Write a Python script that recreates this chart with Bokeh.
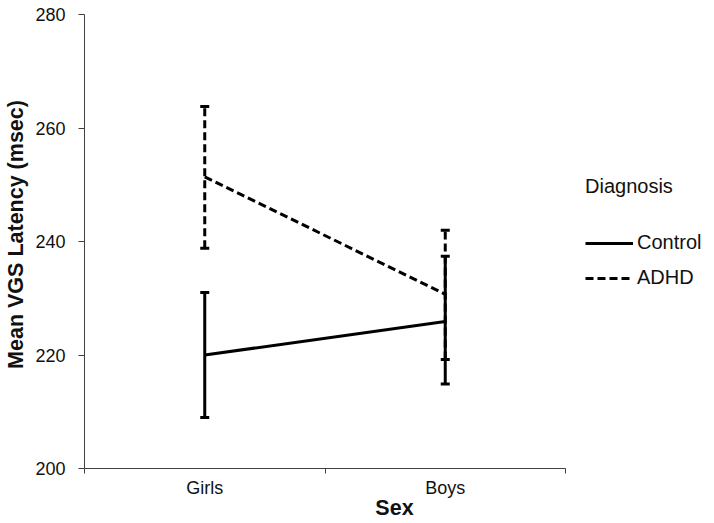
from bokeh.plotting import figure
from bokeh.models import Range1d, FixedTicker, Legend, LegendItem, ColumnDataSource
from bokeh.embed import file_html
from bokeh.resources import INLINE

categories = ["Girls", "Boys"]
control_mean = [220.0, 225.9]
control_upper = [231.0, 237.4]
control_lower = [209.0, 214.9]
adhd_mean = [251.4, 230.7]
adhd_upper = [263.8, 242.0]
adhd_lower = [238.8, 219.2]
y_ticks = [200, 220, 240, 260, 280]

xpos = [i + 0.5 for i in range(len(categories))]
n = len(categories)
FW = 620          # frame width (px); categories span 481 px of it
FH = 468          # frame height (px); 200..280 span 454 px of it

p = figure(frame_width=FW, frame_height=FH, output_backend="svg", toolbar_location=None,
           x_range=Range1d(0, n * FW / 481), y_range=Range1d(200, 200 + 80 * FH / 454),
           min_border_left=84, min_border_right=0, min_border_top=0, min_border_bottom=52)
p.outline_line_color = None
p.xgrid.visible = False
p.ygrid.visible = False

FONT = "Liberation Sans"
AX = "#404040"
TXT = "#111111"

# x axis
p.xaxis.bounds = (0, n)
p.xaxis.ticker = FixedTicker(ticks=xpos, minor_ticks=list(range(n + 1)))
p.xaxis.major_label_overrides = {x: c for x, c in zip(xpos, categories)}
p.xaxis.major_tick_line_color = None
p.xaxis.major_tick_in = 0
p.xaxis.major_tick_out = 0
p.xaxis.minor_tick_in = 0
p.xaxis.minor_tick_out = 5
p.xaxis.minor_tick_line_color = AX
p.xaxis.axis_line_color = AX
p.xaxis.major_label_standoff = 4
p.xaxis.major_label_text_font = FONT
p.xaxis.major_label_text_font_size = "18px"
p.xaxis.major_label_text_color = TXT
p.xaxis.axis_label = "Sex"
p.xaxis.axis_label_text_font = FONT
p.xaxis.axis_label_text_font_size = "21.5px"
p.xaxis.axis_label_text_font_style = "bold"
p.xaxis.axis_label_text_color = TXT
p.xaxis.axis_label_standoff = -5

# y axis
p.yaxis.bounds = (200, 280)
p.yaxis.ticker = FixedTicker(ticks=y_ticks, minor_ticks=[])
p.yaxis.major_tick_in = 0
p.yaxis.major_tick_out = 6
p.yaxis.major_tick_line_color = AX
p.yaxis.axis_line_color = AX
p.yaxis.major_label_standoff = 13
p.yaxis.major_label_text_font = FONT
p.yaxis.major_label_text_font_size = "18px"
p.yaxis.major_label_text_color = TXT
p.yaxis.axis_label = "Mean VGS Latency (msec)"
p.yaxis.axis_label_text_font = FONT
p.yaxis.axis_label_text_font_size = "21.5px"
p.yaxis.axis_label_text_font_style = "bold"
p.yaxis.axis_label_text_color = TXT
p.yaxis.axis_label_standoff = 4

DASH = "8 4"

src_c = ColumnDataSource(dict(x=xpos, m=control_mean, u=control_upper, l=control_lower))
src_a = ColumnDataSource(dict(x=xpos, m=adhd_mean, u=adhd_upper, l=adhd_lower))

# error bars
p.segment(x0="x", y0="l", x1="x", y1="u", source=src_a, line_color="black", line_width=3, line_dash=DASH)
p.segment(x0="x", y0="l", x1="x", y1="u", source=src_c, line_color="black", line_width=3)
for s in (src_a, src_c):
    p.scatter(x="x", y="u", source=s, marker="dash", size=9, line_color="black", line_width=3)
    p.scatter(x="x", y="l", source=s, marker="dash", size=9, line_color="black", line_width=3)

# lines
r_c = p.line(x="x", y="m", source=src_c, line_color="black", line_width=3)
r_a = p.line(x="x", y="m", source=src_a, line_color="black", line_width=3, line_dash=DASH)

legend = Legend(items=[LegendItem(label="Control", renderers=[r_c]),
                       LegendItem(label="ADHD", renderers=[r_a])],
                location=(501, 179), title="Diagnosis",
                title_text_font=FONT, title_text_font_size="20px", title_text_font_style="normal",
                title_text_color=TXT, title_standoff=33,
                label_text_font=FONT, label_text_font_size="20px", label_text_color=TXT,
                glyph_width=48, glyph_height=20, label_height=20, label_standoff=4,
                spacing=12, padding=0, margin=0, border_line_color=None, background_fill_alpha=0)
p.add_layout(legend, "center")

open("out.html", "w").write(file_html(p, INLINE))
